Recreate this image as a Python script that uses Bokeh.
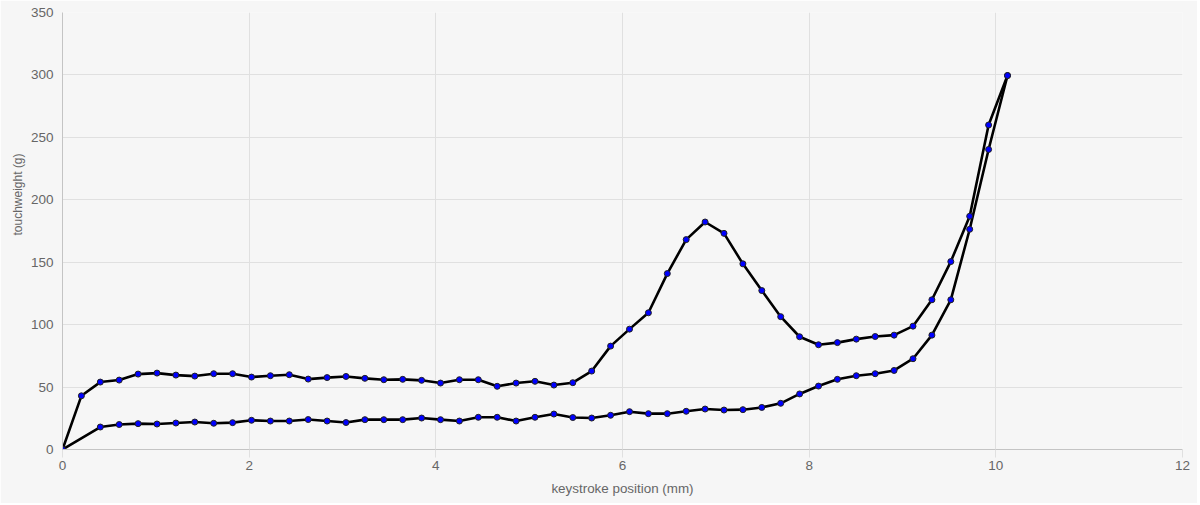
from bokeh.plotting import figure
from bokeh.models import Range1d, FixedTicker, Title
from bokeh.embed import file_html
from bokeh.resources import INLINE

# keystroke position (mm)
press_x = [0, 0.2025, 0.405, 0.6075, 0.81, 1.0125, 1.215, 1.4175, 1.62, 1.8225,
           2.025, 2.2275, 2.43, 2.6325, 2.835, 3.0375, 3.24, 3.4425, 3.645, 3.8475,
           4.05, 4.2525, 4.455, 4.6575, 4.86, 5.0625, 5.265, 5.4675, 5.67, 5.8725,
           6.075, 6.2775, 6.48, 6.6825, 6.885, 7.0875, 7.29, 7.4925, 7.695, 7.8975,
           8.1, 8.3025, 8.505, 8.7075, 8.91, 9.1125, 9.315, 9.5175, 9.72, 9.9225, 10.125]
# touchweight (g) on the downstroke
press_y = [0, 43, 54, 55.6, 60.4, 61.2, 59.6, 58.8, 60.7, 60.7,
           58, 59.1, 59.9, 56.4, 57.6, 58.5, 57, 55.9, 56.2, 55.4,
           53.2, 55.9, 55.9, 50.6, 53.2, 54.6, 51.6, 53.5, 62.8, 82.8,
           96.4, 109.5, 140.9, 168.1, 182.2, 173.1, 148.7, 127.3, 106.4, 90.3,
           83.9, 85.6, 88.4, 90.5, 91.6, 98.8, 119.9, 150.5, 186.8, 259.9, 299.5]

release_x = [0, 0.405, 0.6075, 0.81, 1.0125, 1.215, 1.4175, 1.62, 1.8225,
             2.025, 2.2275, 2.43, 2.6325, 2.835, 3.0375, 3.24, 3.4425, 3.645, 3.8475,
             4.05, 4.2525, 4.455, 4.6575, 4.86, 5.0625, 5.265, 5.4675, 5.67, 5.8725,
             6.075, 6.2775, 6.48, 6.6825, 6.885, 7.0875, 7.29, 7.4925, 7.695, 7.8975,
             8.1, 8.3025, 8.505, 8.7075, 8.91, 9.1125, 9.315, 9.5175, 9.72, 9.9225, 10.125]
# touchweight (g) on the return stroke
release_y = [0, 18, 20, 20.7, 20.4, 21.2, 22, 21, 21.5,
             23.4, 22.8, 22.8, 24, 22.8, 21.6, 23.9, 23.9, 23.9, 25.2,
             23.9, 22.8, 25.8, 25.8, 22.8, 25.8, 28.4, 25.6, 25.2, 27.4,
             30.3, 28.7, 28.7, 30.6, 32.4, 31.6, 31.9, 33.7, 37, 44.5,
             50.8, 56.2, 59.1, 60.7, 63.3, 72.7, 91.6, 119.9, 176.4, 240.3, 299.5]

x_ticks = [0, 2, 4, 6, 8, 10, 12]
y_ticks = [0, 50, 100, 150, 200, 250, 300, 350]

BG = "#f6f6f6"
GRID = "#e0e0e0"
AXIS = "#c4c4c4"
TXT = "#666666"
FONT = "Liberation Sans"

p = figure(width=1197, height=503, output_backend="svg", toolbar_location=None,
           x_range=Range1d(0, 12), y_range=Range1d(0, 350),
           min_border_left=62, min_border_right=15, min_border_top=12, min_border_bottom=54)
p.background_fill_color = BG
p.border_fill_color = BG
p.outline_line_color = None

p.xaxis.ticker = FixedTicker(ticks=x_ticks)
p.yaxis.ticker = FixedTicker(ticks=y_ticks)
p.xgrid.ticker = FixedTicker(ticks=x_ticks)
p.ygrid.ticker = FixedTicker(ticks=y_ticks)
p.xgrid.grid_line_color = GRID
p.ygrid.grid_line_color = GRID

for ax in (p.xaxis[0], p.yaxis[0]):
    ax.axis_line_color = AXIS
    ax.minor_tick_line_color = None
    ax.major_label_text_color = TXT
    ax.major_label_text_font = FONT
    ax.major_label_text_font_size = "13.5px"
    ax.axis_label_text_color = TXT
    ax.axis_label_text_font = FONT
    ax.axis_label_text_font_size = "13.4px"
    ax.axis_label_text_font_style = "normal"

p.xaxis.major_tick_line_color = GRID
p.xaxis.major_tick_out = 8
p.xaxis.major_tick_in = 0
p.xaxis.major_label_standoff = 3
p.xaxis.axis_label = "keystroke position (mm)"
p.xaxis.axis_label_standoff = 8

p.yaxis.major_tick_line_color = None
p.yaxis.major_tick_out = 0
p.yaxis.major_tick_in = 0
p.yaxis.major_label_standoff = 9

ytitle = Title(text="touchweight (g)", align="left", offset=214,
               text_font=FONT, text_font_size="12px", text_font_style="normal",
               text_color=TXT, standoff=6)
p.add_layout(ytitle, "left")

p.line(press_x, press_y, line_color="black", line_width=2.6)
p.line(release_x, release_y, line_color="black", line_width=2.6)
p.scatter(press_x, press_y, size=6, fill_color="#0000ff", line_color="#222222", line_width=1)
p.scatter(release_x, release_y, size=6, fill_color="#0000ff", line_color="#222222", line_width=1)

open("out.html", "w").write(file_html(p, INLINE))
